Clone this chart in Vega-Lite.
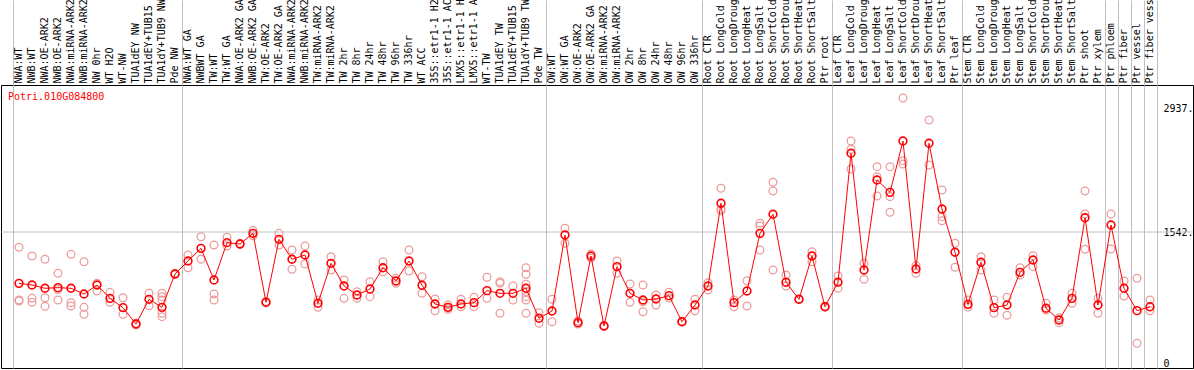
{
  "$schema": "https://vega.github.io/schema/vega-lite/v6.json",
  "autosize": {"type": "none"},
  "padding": {"left": 1, "top": 85, "right": 1, "bottom": 2},
  "width": 1192,
  "height": 283,
  "background": "white",
  "config": {"view": {"stroke": "black", "strokeWidth": 1}},
  "datasets": {
    "means": [
      {"key":"00 NWA:WT","v":960},{"key":"01 NWB:WT","v":941},{"key":"02 NWA:OE-ARK2","v":904},{"key":"03 NWB:OE-ARK2","v":911},
      {"key":"04 NWA:miRNA-ARK2","v":904},{"key":"05 NWB:miRNA-ARK2","v":839},{"key":"06 NW 0hr","v":941},{"key":"07 WT H2O","v":790},
      {"key":"08 WT-NW","v":684},{"key":"09 TUA1dEY NW","v":499},{"key":"10 TUA1dEY+TUB15 NW","v":779},{"key":"11 TUA1dY+TUB9 NW","v":688},
      {"key":"12 Pde NW","v":1066},{"key":"13 NWA:WT GA","v":1213},{"key":"14 NWBWT GA","v":1357},{"key":"15 TW:WT","v":998},
      {"key":"16 TW:WT GA","v":1421},{"key":"17 NWA:OE-ARK2 GA","v":1406},{"key":"18 NWB:OE-ARK2 GA","v":1527},{"key":"19 TW:OE-ARK2","v":745},
      {"key":"20 TW:OE-ARK2 GA","v":1459},{"key":"21 NWA:miRNA-ARK2","v":1233},{"key":"22 NWB:miRNA-ARK2","v":1281},{"key":"23 TW:miRNA-ARK2","v":734},
      {"key":"24 TW:miRNA-ARK2","v":1187},{"key":"25 TW 2hr","v":930},{"key":"26 TW 8hr","v":828},{"key":"27 TW 24hr","v":896},
      {"key":"28 TW 48hr","v":1137},{"key":"29 TW 96hr","v":987},{"key":"30 TW 336hr","v":1213},{"key":"31 WT ACC","v":938},
      {"key":"32 35S::etr1-1 H2O","v":726},{"key":"33 35S::etr1-1 ACC","v":688},{"key":"34 LMX5::etr1-1 H2O","v":726},{"key":"35 LMX5::etr1-1 ACC","v":741},
      {"key":"36 WT-TW","v":877},{"key":"37 TUA1dEY TW","v":847},{"key":"38 TUA1dEY+TUB15 TW","v":847},{"key":"39 TUA1dY+TUB9 TW","v":904},
      {"key":"40 Pde TW","v":564},{"key":"41 OW:WT","v":646},{"key":"42 OW:WT GA","v":1508},{"key":"43 OW:OE-ARK2","v":514},
      {"key":"44 OW:OE-ARK2 GA","v":1270},{"key":"45 OW:miRNA-ARK2","v":476},{"key":"46 OW:miRNA-ARK2","v":1149},{"key":"47 OW 2hr","v":847},
      {"key":"48 OW 8hr","v":771},{"key":"49 OW 24hr","v":782},{"key":"50 OW 48hr","v":820},{"key":"51 OW 96hr","v":525},
      {"key":"52 OW 336hr","v":714},{"key":"53 Root CTR","v":930},{"key":"54 Root LongCold","v":1868},{"key":"55 Root LongDrought","v":741},
      {"key":"56 Root LongHeat","v":873},{"key":"57 Root LongSalt","v":1527},{"key":"58 Root ShortCold","v":1743},{"key":"59 Root ShortDrought","v":972},
      {"key":"60 Root ShortHeat","v":779},{"key":"61 Root ShortSalt","v":1270},{"key":"62 Ptr root","v":695},{"key":"63 Leaf CTR","v":972},
      {"key":"64 Leaf LongCold","v":2435},{"key":"65 Leaf LongDrought","v":1111},{"key":"66 Leaf LongHeat","v":2132},{"key":"67 Leaf LongSalt","v":1992},
      {"key":"68 Leaf ShortCold","v":2574},{"key":"69 Leaf ShortDrought","v":1123},{"key":"70 Leaf ShortHeat","v":2548},{"key":"71 Leaf ShortSalt","v":1803},
      {"key":"72 Ptr leaf","v":1312},{"key":"73 Stem CTR","v":722},{"key":"74 Stem LongCold","v":1199},{"key":"75 Stem LongDrought","v":684},
      {"key":"76 Stem LongHeat","v":714},{"key":"77 Stem LongSalt","v":1085},{"key":"78 Stem ShortCold","v":1225},{"key":"79 Stem ShortDrought","v":677},
      {"key":"80 Stem ShortHeat","v":544},{"key":"81 Stem ShortSalt","v":790},{"key":"82 Ptr shoot","v":1704},{"key":"83 Ptr xylem","v":714},
      {"key":"84 Ptr phloem","v":1622},{"key":"85 Ptr fiber","v":904},{"key":"86 Ptr vessel","v":650},{"key":"87 Ptr fiber vessel","v":695}
    ],
    "reps": [
      {"key":"00 NWA:WT","v":1369},{"key":"00 NWA:WT","v":771},{"key":"00 NWA:WT","v":760},
      {"key":"01 NWB:WT","v":1270},{"key":"01 NWB:WT","v":790},{"key":"01 NWB:WT","v":745},
      {"key":"02 NWA:OE-ARK2","v":1233},{"key":"02 NWA:OE-ARK2","v":797},{"key":"02 NWA:OE-ARK2","v":700},
      {"key":"03 NWB:OE-ARK2","v":1074},{"key":"03 NWB:OE-ARK2","v":771},{"key":"03 NWB:OE-ARK2","v":890},
      {"key":"04 NWA:miRNA-ARK2","v":1289},{"key":"04 NWA:miRNA-ARK2","v":741},{"key":"04 NWA:miRNA-ARK2","v":703},
      {"key":"05 NWB:miRNA-ARK2","v":1205},{"key":"05 NWB:miRNA-ARK2","v":688},{"key":"05 NWB:miRNA-ARK2","v":609},
      {"key":"06 NW 0hr","v":960},{"key":"06 NW 0hr","v":873},
      {"key":"07 WT H2O","v":858},{"key":"07 WT H2O","v":745},
      {"key":"08 WT-NW","v":797},{"key":"08 WT-NW","v":609},
      {"key":"09 TUA1dEY NW","v":507},{"key":"09 TUA1dEY NW","v":488},
      {"key":"10 TUA1dEY+TUB15 NW","v":847},{"key":"10 TUA1dEY+TUB15 NW","v":706},
      {"key":"11 TUA1dY+TUB9 NW","v":847},{"key":"11 TUA1dY+TUB9 NW","v":809},{"key":"11 TUA1dY+TUB9 NW","v":771},{"key":"11 TUA1dY+TUB9 NW","v":620},{"key":"11 TUA1dY+TUB9 NW","v":582},
      {"key":"12 Pde NW","v":1060},{"key":"12 Pde NW","v":1075},
      {"key":"13 NWA:WT GA","v":1281},{"key":"13 NWA:WT GA","v":1137},
      {"key":"14 NWBWT GA","v":1489},{"key":"14 NWBWT GA","v":1233},
      {"key":"15 TW:WT","v":1395},{"key":"15 TW:WT","v":839},{"key":"15 TW:WT","v":771},
      {"key":"16 TW:WT GA","v":1482},{"key":"16 TW:WT GA","v":1383},
      {"key":"17 NWA:OE-ARK2 GA","v":1400},{"key":"17 NWA:OE-ARK2 GA","v":1415},
      {"key":"18 NWB:OE-ARK2 GA","v":1560},{"key":"18 NWB:OE-ARK2 GA","v":1500},
      {"key":"19 TW:OE-ARK2","v":740},{"key":"19 TW:OE-ARK2","v":755},
      {"key":"20 TW:OE-ARK2 GA","v":1527},{"key":"20 TW:OE-ARK2 GA","v":1395},
      {"key":"21 NWA:miRNA-ARK2","v":1338},{"key":"21 NWA:miRNA-ARK2","v":1119},
      {"key":"22 NWB:miRNA-ARK2","v":1383},{"key":"22 NWB:miRNA-ARK2","v":1179},
      {"key":"23 TW:miRNA-ARK2","v":688},{"key":"23 TW:miRNA-ARK2","v":771},
      {"key":"24 TW:miRNA-ARK2","v":1262},{"key":"24 TW:miRNA-ARK2","v":1111},
      {"key":"25 TW 2hr","v":998},{"key":"25 TW 2hr","v":790},
      {"key":"26 TW 8hr","v":865},{"key":"26 TW 8hr","v":790},
      {"key":"27 TW 24hr","v":979},{"key":"27 TW 24hr","v":809},
      {"key":"28 TW 48hr","v":1205},{"key":"28 TW 48hr","v":1092},
      {"key":"29 TW 96hr","v":1017},{"key":"29 TW 96hr","v":960},
      {"key":"30 TW 336hr","v":1338},{"key":"30 TW 336hr","v":1100},
      {"key":"31 WT ACC","v":1035},{"key":"31 WT ACC","v":847},
      {"key":"32 35S::etr1-1 H2O","v":782},{"key":"32 35S::etr1-1 H2O","v":650},
      {"key":"33 35S::etr1-1 ACC","v":666},{"key":"33 35S::etr1-1 ACC","v":714},
      {"key":"34 LMX5::etr1-1 H2O","v":779},{"key":"34 LMX5::etr1-1 H2O","v":695},
      {"key":"35 LMX5::etr1-1 ACC","v":802},{"key":"35 LMX5::etr1-1 ACC","v":695},
      {"key":"36 WT-TW","v":1029},{"key":"36 WT-TW","v":790},
      {"key":"37 TUA1dEY TW","v":979},{"key":"37 TUA1dEY TW","v":960},{"key":"37 TUA1dEY TW","v":620},
      {"key":"38 TUA1dEY+TUB15 TW","v":930},{"key":"38 TUA1dEY+TUB15 TW","v":771},
      {"key":"39 TUA1dY+TUB9 TW","v":1137},{"key":"39 TUA1dY+TUB9 TW","v":1063},{"key":"39 TUA1dY+TUB9 TW","v":949},{"key":"39 TUA1dY+TUB9 TW","v":865},{"key":"39 TUA1dY+TUB9 TW","v":809},{"key":"39 TUA1dY+TUB9 TW","v":771},{"key":"39 TUA1dY+TUB9 TW","v":620},
      {"key":"40 Pde TW","v":627},{"key":"40 Pde TW","v":507},
      {"key":"41 OW:WT","v":779},{"key":"41 OW:WT","v":525},
      {"key":"42 OW:WT GA","v":1584},{"key":"42 OW:WT GA","v":1414},
      {"key":"43 OW:OE-ARK2","v":533},{"key":"43 OW:OE-ARK2","v":499},
      {"key":"44 OW:OE-ARK2 GA","v":1293},{"key":"44 OW:OE-ARK2 GA","v":1247},
      {"key":"45 OW:miRNA-ARK2","v":470},{"key":"45 OW:miRNA-ARK2","v":482},
      {"key":"46 OW:miRNA-ARK2","v":1213},{"key":"46 OW:miRNA-ARK2","v":1074},
      {"key":"47 OW 2hr","v":953},{"key":"47 OW 2hr","v":745},
      {"key":"48 OW 8hr","v":941},{"key":"48 OW 8hr","v":638},{"key":"48 OW 8hr","v":752},
      {"key":"49 OW 24hr","v":828},{"key":"49 OW 24hr","v":714},
      {"key":"50 OW 48hr","v":858},{"key":"50 OW 48hr","v":794},
      {"key":"51 OW 96hr","v":520},{"key":"51 OW 96hr","v":530},
      {"key":"52 OW 336hr","v":779},{"key":"52 OW 336hr","v":650},
      {"key":"53 Root CTR","v":967},{"key":"53 Root CTR","v":885},
      {"key":"54 Root LongCold","v":2038},{"key":"54 Root LongCold","v":1784},{"key":"54 Root LongCold","v":1800},
      {"key":"55 Root LongDrought","v":695},{"key":"55 Root LongDrought","v":771},
      {"key":"56 Root LongHeat","v":990},{"key":"56 Root LongHeat","v":703},
      {"key":"57 Root LongSalt","v":1641},{"key":"57 Root LongSalt","v":1610},{"key":"57 Root LongSalt","v":1338},
      {"key":"58 Root ShortCold","v":2106},{"key":"58 Root ShortCold","v":2007},{"key":"58 Root ShortCold","v":1111},
      {"key":"59 Root ShortDrought","v":1055},{"key":"59 Root ShortDrought","v":930},
      {"key":"60 Root ShortHeat","v":775},{"key":"60 Root ShortHeat","v":785},
      {"key":"61 Root ShortSalt","v":1319},{"key":"61 Root ShortSalt","v":1205},
      {"key":"62 Ptr root","v":690},{"key":"62 Ptr root","v":700},
      {"key":"63 Leaf CTR","v":1043},{"key":"63 Leaf CTR","v":904},
      {"key":"64 Leaf LongCold","v":2574},{"key":"64 Leaf LongCold","v":2480},{"key":"64 Leaf LongCold","v":2257},
      {"key":"65 Leaf LongDrought","v":1187},{"key":"65 Leaf LongDrought","v":1006},
      {"key":"66 Leaf LongHeat","v":2283},{"key":"66 Leaf LongHeat","v":2169},{"key":"66 Leaf LongHeat","v":1950},
      {"key":"67 Leaf LongSalt","v":2283},{"key":"67 Leaf LongSalt","v":1943},{"key":"67 Leaf LongSalt","v":1766},
      {"key":"68 Leaf ShortCold","v":3062},{"key":"68 Leaf ShortCold","v":2351},{"key":"68 Leaf ShortCold","v":2313},
      {"key":"69 Leaf ShortDrought","v":1160},{"key":"69 Leaf ShortDrought","v":1074},
      {"key":"70 Leaf ShortHeat","v":2812},{"key":"70 Leaf ShortHeat","v":2302},
      {"key":"71 Leaf ShortSalt","v":2019},{"key":"71 Leaf ShortSalt","v":1716},{"key":"71 Leaf ShortSalt","v":1670},
      {"key":"72 Ptr leaf","v":1414},{"key":"72 Ptr leaf","v":1142},
      {"key":"73 Stem CTR","v":771},{"key":"73 Stem CTR","v":692},
      {"key":"74 Stem LongCold","v":1262},{"key":"74 Stem LongCold","v":1111},
      {"key":"75 Stem LongDrought","v":771},{"key":"75 Stem LongDrought","v":620},
      {"key":"76 Stem LongHeat","v":802},{"key":"76 Stem LongHeat","v":598},
      {"key":"77 Stem LongSalt","v":1137},{"key":"77 Stem LongSalt","v":1055},
      {"key":"78 Stem ShortCold","v":1273},{"key":"78 Stem ShortCold","v":1149},
      {"key":"79 Stem ShortDrought","v":734},{"key":"79 Stem ShortDrought","v":658},
      {"key":"80 Stem ShortHeat","v":570},{"key":"80 Stem ShortHeat","v":514},
      {"key":"81 Stem ShortSalt","v":847},{"key":"81 Stem ShortSalt","v":734},
      {"key":"82 Ptr shoot","v":2007},{"key":"82 Ptr shoot","v":1746},{"key":"82 Ptr shoot","v":1346},
      {"key":"83 Ptr xylem","v":790},{"key":"83 Ptr xylem","v":620},
      {"key":"84 Ptr phloem","v":1746},{"key":"84 Ptr phloem","v":1349},
      {"key":"85 Ptr fiber","v":987},{"key":"85 Ptr fiber","v":816},
      {"key":"86 Ptr vessel","v":1017},{"key":"86 Ptr vessel","v":280},
      {"key":"87 Ptr fiber vessel","v":771},{"key":"87 Ptr fiber vessel","v":650}
    ],
    "levels": [{"level":1542}],
    "gene": [{"name":"Potri.010G084800","key":"00 NWA:WT","y":3073}]
  },
  "layer": [
    {
      "data": {"name": "reps"},
      "mark": {"type": "point", "shape": "circle", "filled": false, "size": 60, "stroke": "#ec9c9c", "strokeWidth": 1.3, "opacity": 1},
      "encoding": {
        "x": {
          "field": "key", "type": "ordinal",
          "scale": {"type": "band", "paddingInner": 0, "paddingOuter": 0, "range": [11.5, 1155.5]},
          "axis": {
            "orient": "top", "offset": 0, "title": null, "domain": false,
            "ticks": true, "tickBand": "extent", "tickSize": 85, "tickWidth": 1,
            "tickColor": {"condition": {"test": "datum.extra ? true : indexof(['12','40','52','62','72','83','84','85','86','87'], slice(datum.value, 0, 2)) >= 0", "value": "#c0c0c0"}, "value": "transparent"},
            "grid": true, "gridWidth": 1,
            "gridColor": {"condition": {"test": "datum.extra ? true : indexof(['12','40','52','62','72','83','84','85','86','87'], slice(datum.value, 0, 2)) >= 0", "value": "#c0c0c0"}, "value": "transparent"},
            "labelAngle": -90, "labelAlign": "left",
            "labelBaseline": "middle", "labelPadding": -83, "labelFont": "DejaVu Sans Mono",
            "labelFontSize": 10, "labelColor": "black", "labelLimit": 0, "labelOverlap": false,
            "labelOffset": -1,
            "labelExpr": "datum.value ? slice(datum.value, 3) : ''"
          }
        },
        "y": {
          "field": "v", "type": "quantitative",
          "scale": {"domain": [0, 3209], "nice": false, "zero": true},
          "axis": {
            "orient": "right", "offset": -32, "title": null, "domain": false, "ticks": false,
            "grid": false, "values": [0, 1542, 2937], "labelPadding": 2, "labelAlign": "left",
            "labelFont": "DejaVu Sans Mono", "labelFontSize": 10, "labelColor": "black",
            "labelFlush": true,
            "labelExpr": "datum.value === 0 ? '0' : datum.value + '.'"
          }
        }
      }
    },
    {
      "data": {"name": "levels"},
      "mark": {"type": "rule", "color": "#c0c0c0", "strokeWidth": 1},
      "encoding": {
        "y": {"field": "level", "type": "quantitative"}
      }
    },
    {
      "data": {"name": "means"},
      "mark": {"type": "line", "color": "#ff0000", "strokeWidth": 1},
      "encoding": {
        "x": {"field": "key", "type": "ordinal"},
        "y": {"field": "v", "type": "quantitative"}
      }
    },
    {
      "data": {"name": "means"},
      "mark": {"type": "point", "shape": "circle", "filled": false, "size": 60, "stroke": "#ff0000", "strokeWidth": 1.6, "opacity": 1},
      "encoding": {
        "x": {"field": "key", "type": "ordinal"},
        "y": {"field": "v", "type": "quantitative"}
      }
    },
    {
      "data": {"name": "gene"},
      "mark": {"type": "text", "color": "#ff0000", "font": "DejaVu Sans Mono", "fontSize": 10, "align": "left", "baseline": "middle", "dx": -4.5},
      "encoding": {
        "x": {"field": "key", "type": "ordinal", "bandPosition": 0},
        "y": {"field": "y", "type": "quantitative"},
        "text": {"field": "name"}
      }
    }
  ]
}
